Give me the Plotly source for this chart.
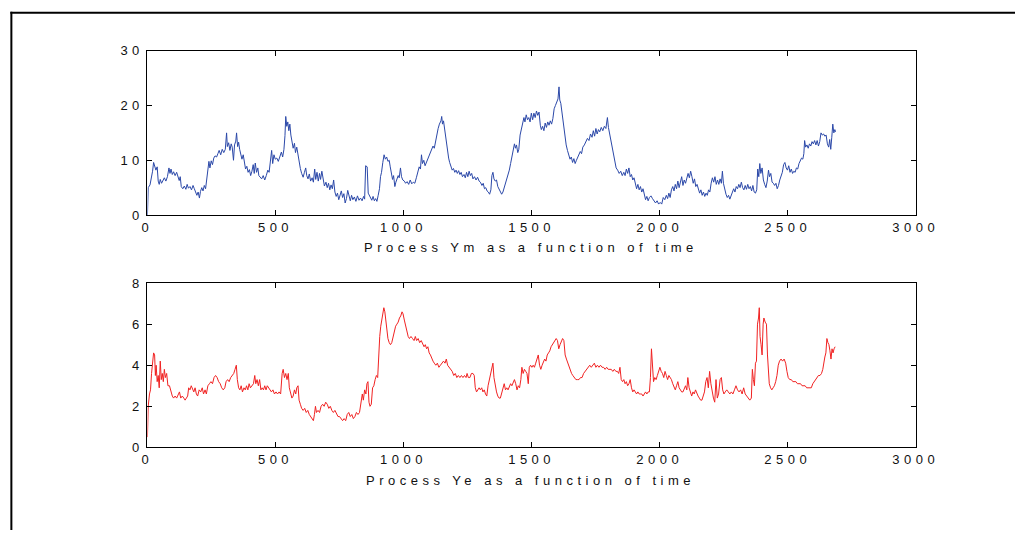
import plotly.graph_objects as go

# Process Ym: time stamps and values
ym_t = [0, 3, 10, 15, 20, 24, 28, 33, 38, 42, 46, 50, 55, 60, 66, 72, 78, 84, 88, 92, 97, 102, 108, 114, 119, 124, 128,
        132, 138, 144, 150, 155, 160, 166, 172, 178, 183, 188, 193, 198, 203, 207, 212, 217, 222, 227, 232, 236, 240,
        244, 249, 254, 259, 264, 270, 275, 280, 286, 292, 298, 304, 309, 312, 317, 322, 327, 331, 336, 340, 345, 348,
        352, 356, 360, 365, 369, 374, 378, 383, 388, 393, 398, 403, 408, 413, 417, 421, 426, 431, 435, 440, 446, 452,
        458, 464, 470, 475, 480, 485, 489, 494, 499, 505, 511, 517, 523, 528, 533, 537, 540, 544, 548, 552, 556, 560,
        565, 569, 574, 578, 583, 588, 592, 597, 602, 608, 613, 618, 622, 627, 632, 637, 643, 648, 653, 657, 662, 667,
        672, 676, 681, 686, 691, 697, 702, 707, 712, 717, 722, 727, 732, 737, 742, 747, 752, 757, 762, 767, 772, 777,
        782, 787, 792, 797, 802, 808, 814, 820, 826, 832, 838, 844, 848, 852, 858, 862, 866, 871, 876, 881, 886, 891,
        896, 901, 906, 910, 914, 919, 924, 929, 934, 939, 944, 948, 952, 957, 961, 966, 970, 975, 979, 983, 988, 992,
        997, 1003, 1008, 1014, 1020, 1026, 1032, 1038, 1044, 1050, 1056, 1061, 1066, 1070, 1074, 1079, 1084, 1089,
        1094, 1099, 1104, 1110, 1115, 1120, 1125, 1130, 1135, 1140, 1146, 1149, 1152, 1156, 1160, 1164, 1168, 1172,
        1176, 1180, 1185, 1190, 1195, 1200, 1205, 1210, 1215, 1220, 1225, 1230, 1236, 1241, 1246, 1251, 1256, 1261,
        1266, 1271, 1277, 1283, 1289, 1295, 1300, 1306, 1311, 1316, 1321, 1326, 1331, 1336, 1341, 1345, 1349, 1353,
        1358, 1363, 1368, 1373, 1378, 1383, 1388, 1393, 1398, 1403, 1408, 1413, 1418, 1423, 1428, 1433, 1437, 1441,
        1446, 1450, 1455, 1460, 1465, 1470, 1474, 1479, 1484, 1489, 1494, 1499, 1504, 1509, 1514, 1519, 1524, 1529,
        1534, 1538, 1543, 1548, 1553, 1558, 1563, 1568, 1573, 1578, 1583, 1588, 1593, 1598, 1603, 1607, 1610, 1614,
        1618, 1622, 1626, 1630, 1635, 1640, 1645, 1650, 1655, 1660, 1665, 1670, 1675, 1680, 1685, 1690, 1695, 1700,
        1706, 1712, 1718, 1724, 1730, 1736, 1741, 1746, 1751, 1756, 1761, 1766, 1772, 1778, 1784, 1790, 1796, 1800,
        1805, 1810, 1815, 1820, 1825, 1830, 1836, 1842, 1848, 1854, 1860, 1865, 1870, 1875, 1880, 1885, 1890, 1895,
        1900, 1905, 1910, 1915, 1920, 1925, 1930, 1935, 1940, 1945, 1950, 1955, 1960, 1966, 1972, 1978, 1984, 1990,
        1996, 2002, 2008, 2014, 2020, 2026, 2031, 2036, 2041, 2046, 2051, 2056, 2061, 2066, 2071, 2076, 2081, 2086,
        2091, 2096, 2101, 2106, 2111, 2116, 2121, 2126, 2131, 2136, 2141, 2146, 2151, 2156, 2161, 2166, 2171, 2176,
        2181, 2186, 2191, 2196, 2201, 2206, 2211, 2216, 2221, 2226, 2231, 2236, 2241, 2245, 2249, 2254, 2259, 2264,
        2269, 2274, 2279, 2284, 2289, 2294, 2299, 2304, 2309, 2314, 2319, 2324, 2329, 2334, 2339, 2344, 2349, 2354,
        2359, 2364, 2369, 2374, 2379, 2383, 2387, 2391, 2395, 2400, 2405, 2410, 2415, 2420, 2425, 2429, 2434, 2439,
        2444, 2449, 2454, 2459, 2464, 2469, 2474, 2479, 2484, 2489, 2494, 2499, 2504, 2509, 2514, 2519, 2524, 2529,
        2534, 2539, 2544, 2549, 2554, 2559, 2563, 2566, 2570, 2575, 2580, 2585, 2590, 2595, 2600, 2605, 2610, 2615,
        2620, 2625, 2630, 2635, 2640, 2645, 2650, 2655, 2660, 2664, 2668, 2672, 2676, 2680, 2684, 2687]
ym_v = [0, 5, 5.5, 6.5, 8, 9.6, 9, 8.2, 8.8, 6.2, 5.6, 6.5, 5.8, 6.3, 6.8, 6.2, 7, 8.6, 7.6, 8.4, 7.4, 7.9, 7.2, 7.8,
        6.8, 6.3, 7, 5.2, 4.8, 5.3, 4.7, 5.6, 4.9, 5.2, 4.6, 5.4, 4.8, 4.2, 3.6, 4.2, 3.1, 4.3, 5, 4.4, 5.4, 4.8, 7, 8.5,
        9.8, 8.6, 9.9, 9.2, 10.4, 10.8, 10.6, 11.2, 11.8, 11, 12, 11.4, 12, 15, 12.5, 13.2, 11.8, 13, 12.4, 10, 12.8,
        13.5, 15, 12.5, 13.3, 12, 11, 10.2, 11, 9.5, 8.4, 8.9, 7.8, 8.3, 7.2, 8, 9.2, 7.6, 9.5, 7.8, 8.6, 7.2, 7, 6.6,
        7.2, 6.4, 7.2, 8.2, 7.8, 10, 11.8, 9.4, 11, 10.2, 10.4, 9.8, 10.5, 11.5, 10.6, 12, 14.5, 18, 16.2, 17, 15.4,
        16.6, 14.6, 13.4, 12.2, 13.1, 11.4, 12.4, 11, 9.4, 8.5, 7.6, 6.9, 7.8, 8.6, 7.2, 6.6, 7.5, 6.2, 6.8, 6, 8.4,
        6.5, 7.8, 6.2, 7.6, 6.5, 8, 6.8, 5.3, 6, 5, 5.8, 4.6, 5.5, 4.8, 6.4, 4.2, 3.4, 4, 2.8, 3.6, 4.4, 3.2, 3.9, 2.2,
        3, 4.5, 3.2, 2.6, 3.6, 2.8, 3.3, 2.5, 3.5, 2.7, 3.1, 2.6, 3.4, 2.9, 9, 8.8, 4, 3.6, 3.2, 2.7, 3.4, 2.6, 3, 2.5,
        3.6, 4.8, 7, 7.8, 9.6, 11, 10.2, 10.6, 9.8, 10, 8.8, 7.4, 6.5, 7.2, 5.2, 6, 6.8, 7.2, 6.8, 8.6, 7, 6.4, 6.2,
        5.8, 6.1, 5.6, 6.4, 5.7, 6, 5.8, 6.8, 8, 8.8, 8.4, 11, 9.4, 10, 9, 9.6, 10.2, 10.8, 11.4, 12, 12.6, 12.2, 13.6,
        14.4, 15.8, 16.6, 17.2, 18, 16.6, 17.2, 15.8, 13.8, 12.4, 11.4, 10.4, 9.6, 9, 8.2, 8.5, 7.8, 8.2, 7.6, 8.1, 7.4,
        7.8, 7, 7.4, 6.8, 7.8, 7, 8, 7.2, 7.6, 6.6, 7, 6.4, 6.9, 6.2, 6, 5.4, 5.8, 4.8, 5, 4.4, 4.2, 3.8, 4.6, 7.2,
        7.8, 6.6, 6.2, 6.4, 5.2, 4.8, 4.4, 3.8, 4.2, 5, 5.6, 6.6, 7.2, 8.2, 9.4, 10.6, 11.8, 13, 12.2, 12.8, 11.4, 12,
        14.6, 15.8, 17.2, 17.8, 17, 18.3, 17.4, 17.8, 17, 18.6, 17.4, 18.6, 17.8, 19, 18.2, 18.8, 16.4, 15.6, 16.2,
        15.4, 16.8, 16, 17, 16.4, 17.2, 16.6, 17.6, 19.4, 20, 20.8, 21.2, 23.4, 21, 20.4, 18.8, 17.2, 15.8, 14.2, 12.8,
        11.8, 10.8, 10.2, 10.6, 9.6, 10.3, 9.4, 10, 10.6, 11, 11.6, 11.2, 12.4, 12.8, 13.4, 14, 13.6, 14.8, 14.2, 15.4,
        14.4, 15.8, 14.8, 15.6, 15.2, 16, 15.4, 16.2, 15.8, 17.8, 16, 14.8, 13.4, 12, 10.6, 9.6, 8.6, 8.2, 7.6, 8, 7.2,
        7.8, 7.2, 8.4, 7.6, 8.6, 7, 7.4, 6.4, 6.8, 5.4, 4.8, 5.6, 4.6, 5.2, 4.2, 4.8, 3.4, 2.8, 3.4, 2.6, 3.2, 3.5, 3,
        2.6, 2.2, 2.6, 2, 2.3, 2, 3.2, 2.8, 3.6, 3, 4, 3.2, 4.6, 5.2, 4.4, 5.6, 4.8, 6.2, 5, 5.8, 7, 5.4, 6.4, 5.8,
        6.8, 7.6, 6.8, 8, 7, 5.8, 6.6, 5.2, 5.6, 4.6, 4, 4.6, 3.6, 4.2, 3.4, 4, 3.6, 4.6, 4.2, 5.8, 6.8, 6, 7, 5.6,
        6.4, 5.6, 6.6, 5.8, 8, 5.8, 4.6, 3.8, 3.2, 3.6, 2.9, 3.6, 4.4, 4.8, 4.2, 5.2, 4.8, 5.6, 5, 6, 5, 4.6, 5.4,
        4.7, 5.6, 4.8, 5.2, 4.4, 5.4, 4.2, 4, 4.6, 8.4, 7, 9.4, 7.6, 8.6, 6.4, 5.6, 5, 6.2, 8.2, 7, 7.6, 6, 5.8, 5.4,
        5.8, 4.8, 5.4, 6.4, 7, 7.8, 9.2, 9.6, 8.6, 8.2, 9, 7.8, 8.4, 7.6, 8, 7.8, 8.6, 8.4, 9.4, 9.8, 10.4, 10.2,
        11.2, 13.6, 12.4, 12.8, 12.2, 13, 12.6, 13.4, 13, 13.6, 12.8, 13.6, 12.6, 13.4, 15, 14.6, 14.8, 14.4, 14.6,
        13, 12.4, 13.8, 12, 14.2, 16.6, 15, 15.6, 15.2]

# Process Ye: time stamps and values
ye_t = [0, 3, 8, 12, 16, 20, 24, 28, 31, 34, 38, 42, 46, 50, 54, 58, 62, 66, 70, 75, 80, 86, 92, 97, 102, 108, 114,
        120, 125, 130, 136, 142, 147, 152, 157, 161, 166, 171, 176, 181, 186, 191, 196, 202, 208, 214, 219, 225, 230,
        236, 242, 248, 254, 260, 266, 272, 278, 284, 290, 296, 302, 307, 313, 319, 325, 331, 337, 342, 347, 351, 356,
        361, 366, 371, 377, 382, 387, 392, 397, 402, 408, 414, 419, 423, 428, 433, 438, 443, 448, 453, 458, 463, 468,
        473, 478, 484, 490, 496, 502, 508, 514, 520, 526, 530, 535, 540, 545, 550, 554, 559, 564, 569, 574, 579, 583,
        588, 592, 597, 602, 608, 614, 620, 626, 632, 638, 643, 648, 652, 656, 660, 666, 672, 678, 684, 690, 696, 702,
        708, 714, 720, 726, 732, 738, 744, 750, 756, 762, 768, 774, 780, 786, 792, 798, 804, 810, 816, 822, 828, 834,
        839, 843, 848, 853, 857, 861, 865, 869, 874, 879, 884, 889, 894, 899, 903, 907, 911, 915, 919, 923, 927, 931,
        935, 939, 944, 949, 954, 959, 964, 969, 974, 979, 984, 989, 994, 998, 1003, 1008, 1013, 1018, 1023, 1029,
        1035, 1041, 1046, 1051, 1057, 1063, 1069, 1075, 1080, 1085, 1090, 1095, 1100, 1105, 1110, 1115, 1120, 1126,
        1132, 1138, 1144, 1150, 1156, 1162, 1167, 1172, 1178, 1184, 1190, 1196, 1202, 1208, 1214, 1220, 1226, 1232,
        1238, 1244, 1248, 1253, 1259, 1265, 1271, 1276, 1280, 1285, 1290, 1295, 1300, 1305, 1310, 1315, 1320, 1325,
        1330, 1335, 1340, 1345, 1349, 1353, 1358, 1363, 1368, 1373, 1378, 1383, 1388, 1393, 1398, 1403, 1408, 1413,
        1418, 1423, 1428, 1433, 1438, 1443, 1448, 1453, 1458, 1462, 1467, 1472, 1477, 1482, 1487, 1491, 1496, 1501,
        1506, 1511, 1516, 1521, 1526, 1531, 1536, 1541, 1546, 1551, 1556, 1561, 1566, 1571, 1576, 1581, 1586, 1591,
        1596, 1601, 1606, 1611, 1616, 1621, 1626, 1631, 1636, 1641, 1646, 1651, 1656, 1661, 1667, 1673, 1679, 1685,
        1691, 1697, 1703, 1709, 1715, 1721, 1727, 1733, 1739, 1745, 1751, 1757, 1763, 1769, 1775, 1781, 1787, 1793,
        1799, 1805, 1811, 1817, 1823, 1829, 1835, 1840, 1845, 1850, 1855, 1860, 1865, 1870, 1875, 1880, 1885, 1890,
        1895, 1900, 1905, 1910, 1915, 1920, 1925, 1930, 1935, 1940, 1945, 1950, 1955, 1960, 1964, 1968, 1972, 1976,
        1981, 1986, 1991, 1996, 2001, 2006, 2011, 2016, 2021, 2026, 2031, 2036, 2041, 2046, 2051, 2056, 2061, 2066,
        2071, 2076, 2081, 2086, 2091, 2096, 2101, 2106, 2110, 2115, 2120, 2125, 2130, 2135, 2140, 2145, 2150, 2155,
        2160, 2165, 2170, 2175, 2180, 2185, 2190, 2195, 2200, 2205, 2210, 2215, 2220, 2225, 2230, 2236, 2241, 2246,
        2251, 2256, 2262, 2268, 2274, 2280, 2286, 2292, 2298, 2304, 2310, 2316, 2322, 2328, 2334, 2340, 2346, 2352,
        2358, 2362, 2366, 2370, 2374, 2378, 2382, 2386, 2389, 2392, 2396, 2400, 2404, 2407, 2412, 2417, 2421, 2424,
        2428, 2433, 2438, 2443, 2448, 2453, 2458, 2463, 2468, 2474, 2480, 2486, 2492, 2497, 2502, 2508, 2514, 2520,
        2526, 2532, 2538, 2544, 2550, 2556, 2562, 2568, 2574, 2580, 2586, 2592, 2598, 2604, 2610, 2615, 2620, 2626,
        2632, 2637, 2641, 2645, 2649, 2653, 2657, 2661, 2665, 2669, 2673, 2677, 2681, 2685]
ye_v = [0.5, 2, 2.6, 2.8, 3.6, 4, 4.6, 4.5, 3.5, 4, 3.2, 3.5, 2.9, 4.2, 3.3, 3.6, 3.2, 3.8, 3.4, 3.6, 3, 3, 2.7, 2.5,
        2.4, 2.5, 2.4, 2.6, 2.7, 2.4, 2.5, 2.4, 2.3, 2.4, 2.5, 2.9, 2.8, 3, 2.8, 2.7, 2.9, 2.6, 2.5, 2.8, 2.7, 2.9,
        2.6, 2.8, 2.6, 3, 3.1, 3.2, 3.1, 3.4, 3.5, 3.4, 3.2, 3.1, 2.9, 2.8, 2.9, 3.2, 3.3, 3.2, 3.4, 3.5, 3.6, 3.8, 4,
        3.3, 2.9, 2.8, 3, 2.7, 2.9, 2.8, 3, 2.8, 3.1, 2.9, 3, 3.1, 3.5, 3.1, 3.3, 3, 3.3, 2.8, 2.9, 2.8, 3, 2.8, 3,
        2.9, 2.8, 2.7, 2.8, 2.6, 2.7, 2.6, 2.7, 2.6, 3.6, 3.8, 3.4, 3.6, 3.3, 3.6, 2.9, 2.6, 2.4, 2.5, 2.8, 2.6, 2.9,
        3, 2.3, 2.1, 1.9, 1.8, 1.9, 1.7, 1.8, 1.6, 1.5, 1.4, 1.3, 1.6, 2, 1.7, 1.8, 1.7, 2, 2.1, 2, 2.2, 2.1, 1.9, 2,
        1.8, 1.7, 1.8, 1.6, 1.5, 1.5, 1.4, 1.3, 1.4, 1.3, 1.6, 1.7, 1.5, 1.6, 1.4, 1.5, 1.7, 1.6, 1.7, 2.2, 2.6, 2.3,
        2.8, 2.6, 3.1, 3.2, 2.2, 2, 2.1, 2.9, 3, 3.3, 3.5, 3.4, 4.6, 5.4, 5.9, 6.2, 6.5, 6.8, 6.6, 6.1, 5.6, 5.3, 5.1,
        5, 5.1, 5.4, 5.7, 5.9, 6, 6.1, 6.3, 6.4, 6.6, 6.5, 6.2, 5.9, 5.6, 5.4, 5.3, 5.4, 5.3, 5.2, 5.4, 5.2, 5.3, 5.1,
        5.2, 5, 4.9, 5, 4.8, 4.9, 4.6, 4.5, 4.3, 4.2, 4.1, 4, 4.1, 3.9, 4, 4.1, 4.2, 4.1, 4.3, 4, 3.9, 3.8, 3.7, 3.5,
        3.6, 3.4, 3.5, 3.4, 3.5, 3.4, 3.5, 3.4, 3.6, 3.4, 3.4, 3.6, 3.6, 3.5, 2.9, 2.7, 2.8, 2.9, 2.8, 2.9, 2.7, 2.8,
        2.6, 2.5, 3, 3.3, 3.6, 3.9, 4.1, 3.4, 3, 2.7, 2.5, 2.4, 2.4, 2.6, 2.8, 3.1, 2.8, 2.9, 2.8, 3, 3.1, 3, 3.2,
        3.3, 3.1, 2.8, 3, 2.9, 3.3, 3.9, 3.6, 3.8, 3.7, 3.6, 3.1, 3.9, 4, 3.9, 4, 3.9, 4.1, 4.3, 4.5, 4, 3.8, 4, 4.2,
        4.3, 4.2, 4.5, 4.6, 4.7, 4.9, 5, 5.1, 5.2, 5.3, 5.2, 4.8, 5, 5.2, 5.3, 5.2, 4.5, 4.3, 4.1, 3.9, 3.7, 3.6, 3.5,
        3.4, 3.3, 3.3, 3.3, 3.4, 3.4, 3.6, 3.7, 3.8, 3.9, 4, 3.9, 4, 4.1, 3.9, 4, 3.9, 4, 3.9, 3.9, 3.8, 3.9, 3.8,
        3.8, 3.8, 3.7, 3.8, 3.7, 3.7, 3.6, 3.9, 3.3, 3.2, 3.3, 3.1, 3.2, 3, 3.1, 3.3, 2.9, 2.7, 2.8, 2.7, 2.6, 2.7,
        2.6, 2.6, 2.6, 2.5, 2.6, 2.7, 2.6, 2.7, 2.7, 3.4, 4.8, 4.2, 3.2, 3.4, 3.3, 3.5, 3.7, 3.9, 3.7, 3.6, 3.4, 3.7,
        3.5, 3.3, 3.5, 3.4, 3.3, 3.1, 2.9, 2.8, 3, 3.2, 2.9, 2.8, 2.7, 2.7, 2.9, 3, 2.8, 3.4, 2.9, 2.7, 2.5, 2.7,
        2.6, 2.8, 2.6, 2.5, 2.4, 2.3, 2.3, 2.5, 2.7, 3.2, 3.4, 2.9, 3.7, 3.1, 2.7, 2.4, 2.2, 3.3, 2.4, 2.6, 3.3, 3.4,
        2.8, 2.6, 2.7, 2.8, 2.7, 2.6, 2.7, 2.6, 2.8, 3, 2.8, 2.7, 2.8, 2.6, 2.9, 2.6, 2.5, 2.4, 2.3, 2.4, 3.8, 3.3,
        3, 4.1, 4.2, 6, 6.3, 6.8, 5.4, 5, 4.5, 6, 6.3, 6.1, 6, 4.5, 3.5, 3.1, 2.9, 2.8, 2.9, 3, 3.2, 3.5, 4, 4.2, 4.3,
        4.2, 4.3, 4.1, 3.7, 3.4, 3.3, 3.3, 3.2, 3.2, 3.2, 3.1, 3.1, 3.1, 3, 3, 3, 2.9, 2.9, 2.9, 2.9, 3.1, 3.2, 3.3,
        3.4, 3.5, 3.5, 3.6, 3.8, 4.2, 4.4, 4.6, 5.3, 5.1, 5, 4.7, 4.3, 4.8, 4.6, 4.8, 4.9]

# Axis ticks and titles
x_ticks = [0, 500, 1000, 1500, 2000, 2500, 3000]
ym_ticks = [0, 10, 20, 30]
ye_ticks = [0, 2, 4, 6, 8]
ym_title = "Process Ym as a function of time"
ye_title = "Process Ye as a function of time"

W, H = 1029, 538
FONT = dict(family="Liberation Sans, Arial, sans-serif", size=13, color="#111111")


def px_x(p):
    return p / W


def px_y(p):
    return 1 - p / H


fig = go.Figure()
fig.add_trace(go.Scatter(x=ym_t, y=ym_v, mode="lines", xaxis="x", yaxis="y",
                         line=dict(color="#2b48a8", width=1), showlegend=False))
fig.add_trace(go.Scatter(x=ye_t, y=ye_v, mode="lines", xaxis="x2", yaxis="y2",
                         line=dict(color="#f02222", width=1), showlegend=False))

axis_common = dict(showline=True, linecolor="black", linewidth=1, mirror="ticks", ticks="inside",
                   ticklen=5, tickcolor="black", showgrid=False, zeroline=False, tickfont=FONT)

x_dom = [px_x(146), px_x(928)]
fig.update_layout(
    width=W, height=H, margin=dict(l=0, r=0, t=0, b=0),
    paper_bgcolor="white", plot_bgcolor="white",
    xaxis=dict(domain=x_dom, range=[0, 3000], tickvals=x_ticks, anchor="y", **axis_common),
    yaxis=dict(domain=[px_y(214), px_y(45)], range=[0, 30], tickvals=ym_ticks, anchor="x", **axis_common),
    xaxis2=dict(domain=x_dom, range=[0, 3000], tickvals=x_ticks, anchor="y2", **axis_common),
    yaxis2=dict(domain=[px_y(453), px_y(284)], range=[0, 8], tickvals=ye_ticks, anchor="x2", **axis_common),
    annotations=[
        dict(text=ym_title, x=px_x(536), y=px_y(247), xref="paper", yref="paper",
             showarrow=False, font=FONT, xanchor="center", yanchor="middle"),
        dict(text=ye_title, x=px_x(536), y=px_y(487), xref="paper", yref="paper",
             showarrow=False, font=FONT, xanchor="center", yanchor="middle"),
    ],
    shapes=[
        dict(type="line", xref="paper", yref="paper", x0=px_x(7.5), x1=px_x(7.5), y0=0, y1=px_y(5),
             line=dict(color="black", width=2)),
        dict(type="line", xref="paper", yref="paper", x0=px_x(6.5), x1=1, y0=px_y(6), y1=px_y(6),
             line=dict(color="black", width=2)),
    ],
)

# Wide letter spacing for tick labels and captions
css = ("<style>.xaxislayer-above text,.yaxislayer-above text,"
       ".annotation-text{letter-spacing:4.5px}</style>")
post = "document.head.insertAdjacentHTML('beforeend', '%s');" % css

fig.write_html("out.html", post_script=post)
